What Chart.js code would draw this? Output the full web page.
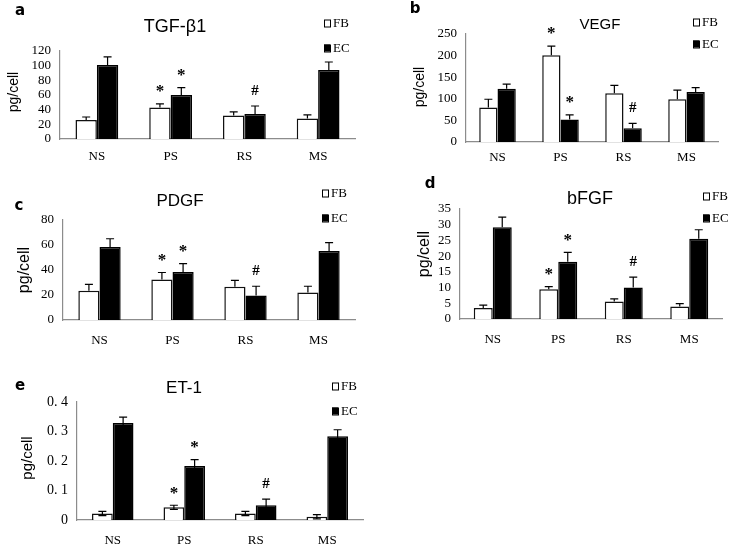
<!DOCTYPE html>
<html>
<head>
<meta charset="utf-8">
<script src="https://cdn.jsdelivr.net/npm/chart.js@4.4.1/dist/chart.umd.min.js"></script>
<style>
  html, body { margin: 0; padding: 0; background: #fff; }
  #wrap { position: relative; width: 732px; height: 547px; overflow: hidden; background: #fff; }
  #wrap canvas { position: absolute; left: 0; top: 0; }
</style>
</head>
<body>
<div id="wrap">
  <canvas id="chartA" width="732" height="547"></canvas>
  <canvas id="chartB" width="732" height="547"></canvas>
  <canvas id="chartC" width="732" height="547"></canvas>
  <canvas id="chartD" width="732" height="547"></canvas>
  <canvas id="chartE" width="732" height="547"></canvas>
</div>
<script>
const categories = ['NS', 'PS', 'RS', 'MS'];
const seriesNames = ['FB', 'EC'];
const marksFB = ['', '*', '', ''];
const marksEC = ['', '*', '#', ''];

// a - TGF-β1
const tgfFB = [26, 43, 32, 28];
const tgfFBErr = [4, 5, 5, 5];
const tgfEC = [101, 60, 34, 94];
const tgfECErr = [11, 10, 11, 11];

// b - VEGF
const vegfFB = [80, 201, 113, 99];
const vegfFBErr = [19, 21, 18, 21];
const vegfEC = [123, 52, 32, 116];
const vegfECErr = [11, 11, 11, 10];

// c - PDGF
const pdgfFB = [23.5, 32.5, 26.7, 22];
const pdgfFBErr = [5, 5.5, 5, 5];
const pdgfEC = [58.4, 38.4, 19.7, 55.2];
const pdgfECErr = [6.6, 6.7, 7.3, 6.7];

// d - bFGF
const bfgfFB = [3.5, 9.5, 5.6, 4];
const bfgfFBErr = [0.9, 0.8, 0.8, 0.9];
const bfgfEC = [29.2, 18.2, 10, 25.5];
const bfgfECErr = [3.2, 3, 3.3, 2.9];

// e - ET-1
const et1FB = [0.022, 0.043, 0.022, 0.011];
const et1FBErr = [0.007, 0.007, 0.007, 0.007];
const et1EC = [0.329, 0.183, 0.05, 0.284];
const et1ECErr = [0.02, 0.022, 0.021, 0.022];
const et1Ticks = ['0', '0. 1', '0. 2', '0. 3', '0. 4'];

const W = 732, H = 547;
const Y_W = 40, X_H = 30;
const SERIF = "'Liberation Serif', 'DejaVu Serif', serif";
const SANS = "'Liberation Sans', Arial, sans-serif";

// error bars, significance marks, titles and legend
const panelDecor = {
  id: 'panelDecor',
  afterDatasetsDraw(chart, args, opts) {
    const ctx = chart.ctx;
    const yScale = chart.scales.y;
    ctx.save();
    chart.data.datasets.forEach((ds, i) => {
      const meta = chart.getDatasetMeta(i);
      meta.data.forEach((bar, j) => {
        const v = ds.data[j];
        const e = ds.errors[j];
        const top = yScale.getPixelForValue(v + e);
        const low = opts.bothSides ? yScale.getPixelForValue(Math.max(v - e, 0)) : bar.y;
        ctx.strokeStyle = '#000';
        ctx.lineWidth = 1.2;
        ctx.beginPath();
        ctx.moveTo(bar.x, low);
        ctx.lineTo(bar.x, top);
        ctx.moveTo(bar.x - 4, top);
        ctx.lineTo(bar.x + 4, top);
        if (opts.bothSides) {
          ctx.moveTo(bar.x - 4, low);
          ctx.lineTo(bar.x + 4, low);
        }
        ctx.stroke();

        const m = ds.marks[j];
        if (m) {
          ctx.fillStyle = '#000';
          ctx.textAlign = 'center';
          ctx.textBaseline = 'middle';
          if (m === '*') {
            ctx.font = 'bold 17px ' + SERIF;
            ctx.fillText(m, bar.x, top - 12);
          } else {
            ctx.font = 'bold 15px ' + SERIF;
            ctx.fillText(m, bar.x, top - 15);
          }
        }
      });
    });
    ctx.restore();
  },
  afterDraw(chart, args, opts) {
    const ctx = chart.ctx;
    ctx.save();
    ctx.fillStyle = '#000';
    ctx.textAlign = 'center';
    ctx.textBaseline = 'middle';

    // panel letter
    ctx.font = "bold 15px 'DejaVu Sans', sans-serif";
    ctx.fillText(opts.letter, opts.letterX, opts.letterY);

    // chart title
    ctx.font = opts.titleSize + 'px ' + SANS;
    ctx.fillText(opts.title, opts.titleX, opts.titleY);

    // y axis title
    ctx.save();
    ctx.translate(opts.yTitleX, opts.yTitleY);
    ctx.rotate(-Math.PI / 2);
    ctx.font = opts.yTitleSize + 'px ' + SANS;
    ctx.fillText('pg/cell', 0, 0);
    ctx.restore();

    // legend
    ctx.textAlign = 'left';
    ctx.font = '13px ' + SERIF;
    chart.data.datasets.forEach((ds, i) => {
      const cy = opts.legendY[i];
      ctx.fillStyle = ds.backgroundColor;
      ctx.fillRect(opts.legendX, cy - 3.5, 6, 7);
      ctx.strokeStyle = '#000';
      ctx.lineWidth = 1;
      ctx.strokeRect(opts.legendX + 0.5, cy - 3, 6, 7);
      ctx.fillStyle = '#000';
      ctx.fillText(ds.label, opts.legendX + 9, cy + 1);
    });
    ctx.restore();
  }
};
Chart.register(panelDecor);

function makePanel(id, p) {
  const ctx = document.getElementById(id).getContext('2d');
  return new Chart(ctx, {
    type: 'bar',
    data: {
      labels: categories,
      datasets: [
        { label: seriesNames[0], data: p.fb, errors: p.fbErr, marks: marksFB,
          backgroundColor: '#ffffff', borderColor: '#111', borderWidth: 1.5 },
        { label: seriesNames[1], data: p.ec, errors: p.ecErr, marks: marksEC,
          backgroundColor: '#000000', borderColor: '#000', borderWidth: 1.5 }
      ]
    },
    options: {
      responsive: false,
      animation: false,
      layout: {
        padding: {
          left: p.area.left - Y_W,
          right: W - p.area.right,
          top: p.area.top,
          bottom: H - p.area.bottom - X_H
        }
      },
      datasets: { bar: { categoryPercentage: 0.58, barPercentage: 1.0 } },
      plugins: {
        legend: { display: false },
        tooltip: { enabled: false },
        title: { display: false },
        panelDecor: p.decor
      },
      scales: {
        x: {
          grid: { display: false, drawTicks: false },
          border: { display: true, color: '#8c8c8c', width: 1.2 },
          ticks: { color: '#000', font: { family: SERIF, size: 13 }, padding: p.xPad },
          afterFit(s) { s.height = X_H; }
        },
        y: {
          min: 0,
          max: p.max,
          grid: { display: false, drawTicks: false },
          border: { display: true, color: '#8c8c8c', width: 1.2 },
          ticks: {
            stepSize: p.step,
            autoSkip: false,
            color: '#000',
            padding: 9,
            font: { family: SERIF, size: p.tickSize || 13 },
            callback: p.tickLabels ? (v, i) => p.tickLabels[i] : (v) => v
          },
          afterFit(s) { s.width = Y_W; }
        }
      }
    }
  });
}

makePanel('chartA', {
  fb: tgfFB, fbErr: tgfFBErr, ec: tgfEC, ecErr: tgfECErr,
  area: { left: 60, right: 355, top: 51, bottom: 139 }, max: 120, step: 20, xPad: 10,
  decor: { letter: 'a', letterX: 20, letterY: 11, title: 'TGF-β1', titleX: 175, titleY: 27, titleSize: 18,
           yTitleX: 14, yTitleY: 92, yTitleSize: 14, legendX: 324, legendY: [23, 48] }
});

makePanel('chartB', {
  fb: vegfFB, fbErr: vegfFBErr, ec: vegfEC, ecErr: vegfECErr,
  area: { left: 466, right: 718, top: 34, bottom: 142 }, max: 250, step: 50, xPad: 8,
  decor: { letter: 'b', letterX: 415, letterY: 9, title: 'VEGF', titleX: 600, titleY: 25, titleSize: 15,
           yTitleX: 420, yTitleY: 87, yTitleSize: 14, legendX: 693, legendY: [22, 44] }
});

makePanel('chartC', {
  fb: pdgfFB, fbErr: pdgfFBErr, ec: pdgfEC, ecErr: pdgfECErr,
  area: { left: 63, right: 355, top: 220, bottom: 320 }, max: 80, step: 20, xPad: 13,
  decor: { letter: 'c', letterX: 19, letterY: 206, title: 'PDGF', titleX: 180, titleY: 201, titleSize: 17,
           yTitleX: 25, yTitleY: 270, yTitleSize: 16, legendX: 322, legendY: [193, 218] }
});

makePanel('chartD', {
  fb: bfgfFB, fbErr: bfgfFBErr, ec: bfgfEC, ecErr: bfgfECErr,
  area: { left: 460, right: 722, top: 209, bottom: 319 }, max: 35, step: 5, xPad: 13,
  decor: { letter: 'd', letterX: 430, letterY: 184, title: 'bFGF', titleX: 590, titleY: 199, titleSize: 18,
           yTitleX: 425, yTitleY: 254, yTitleSize: 16, legendX: 703, legendY: [196, 218] }
});

makePanel('chartE', {
  fb: et1FB, fbErr: et1FBErr, ec: et1EC, ecErr: et1ECErr,
  area: { left: 77, right: 363, top: 402, bottom: 520 }, max: 0.4, step: 0.1, xPad: 13,
  tickLabels: et1Ticks, tickSize: 14,
  decor: { letter: 'e', letterX: 20, letterY: 386, title: 'ET-1', titleX: 184, titleY: 388, titleSize: 17,
           yTitleX: 28, yTitleY: 458, yTitleSize: 15, legendX: 332, legendY: [386, 411], bothSides: true }
});
</script>
</body>
</html>
